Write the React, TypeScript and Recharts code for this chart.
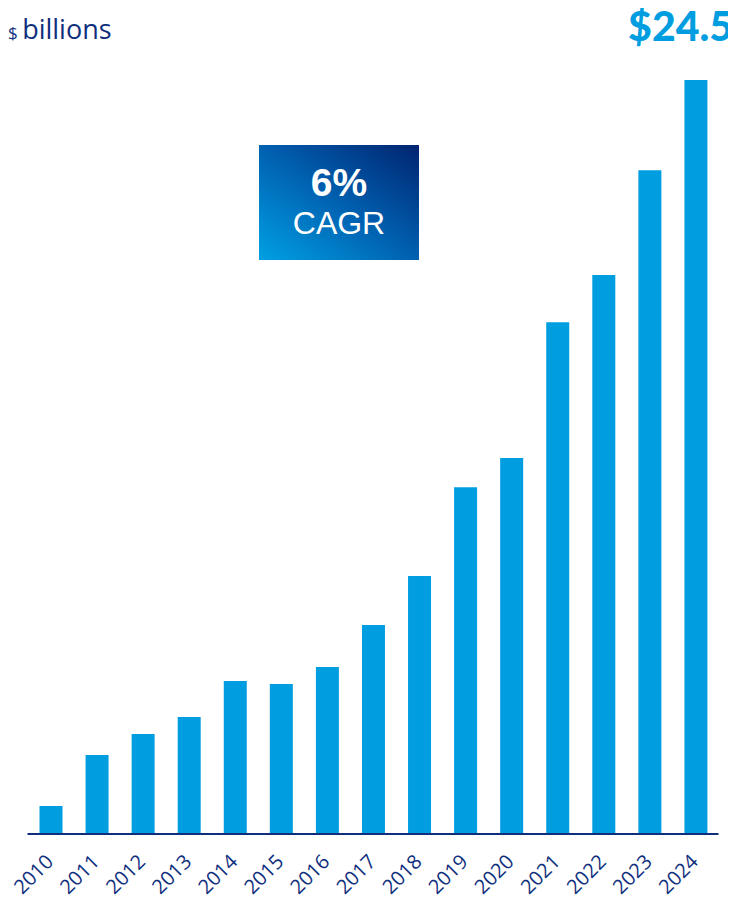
import { BarChart, Bar, XAxis, YAxis } from "recharts";

const years = [
  "2010", "2011", "2012", "2013", "2014", "2015", "2016", "2017",
  "2018", "2019", "2020", "2021", "2022", "2023", "2024",
];
const revenue = [
  0.91, 2.57, 3.25, 3.8, 4.97, 4.87, 5.43, 6.79, 8.38, 11.27, 12.22, 16.63,
  18.16, 21.57, 24.5,
];

const data = years.map((year, i) => ({ year, revenue: revenue[i] }));

const NAVY = "#0f2f7d";
const BLUE = "#009ee0";

export default function App() {
  // outer box is shorter than the chart so the page never gets a scrollbar
  return (
    <div style={{ position: "relative", width: 720, height: 887 }}>
      <BarChart
        width={720}
        height={895}
        data={data}
        margin={{ top: 72, right: 9.5, left: 19.5, bottom: 9 }}
        barCategoryGap={0}
      >
        <XAxis
          dataKey="year"
          interval={0}
          height={60}
          axisLine={{ stroke: NAVY, strokeWidth: 2 }}
          tickLine={false}
          tick={(props: any) => {
            const { x, y, payload } = props;
            const tx = x + 4;
            const ty = y + 21;
            return (
              <text
                x={tx}
                y={ty}
                textAnchor="end"
                transform={`rotate(-45, ${tx}, ${ty})`}
                fontSize={20}
                fill={NAVY}
                fontFamily="'Open Sans', sans-serif"
              >
                {payload.value}
              </text>
            );
          }}
        />
        <YAxis hide domain={[0, 24.5]} />
        <Bar
          dataKey="revenue"
          fill={BLUE}
          barSize={23}
          isAnimationActive={false}
        />
      </BarChart>

      <div
        style={{
          position: "absolute",
          left: 0,
          top: 2,
          color: NAVY,
          fontFamily: "'Open Sans', sans-serif",
          whiteSpace: "nowrap",
        }}
      >
        <span style={{ fontSize: 17 }}>$ </span>
        <span style={{ fontSize: 27 }}>billions</span>
      </div>

      <div
        style={{
          position: "absolute",
          right: -5,
          top: -7,
          color: BLUE,
          fontFamily: "Lato, sans-serif",
          fontWeight: 900,
          fontSize: 41,
          whiteSpace: "nowrap",
        }}
      >
        $24.5
      </div>

      <div
        style={{
          position: "absolute",
          left: 251,
          top: 137,
          width: 160,
          height: 115,
          background: "linear-gradient(to top right, #00a0e3 0%, #0060b0 50%, #002470 100%)",
          color: "#fff",
          fontFamily: "Arial, 'Liberation Sans', sans-serif",
          textAlign: "center",
        }}
      >
        <div style={{ fontSize: 39, fontWeight: 700, lineHeight: "40px", marginTop: 18 }}>6%</div>
        <div style={{ fontSize: 32, lineHeight: "40px" }}>CAGR</div>
      </div>
    </div>
  );
}
